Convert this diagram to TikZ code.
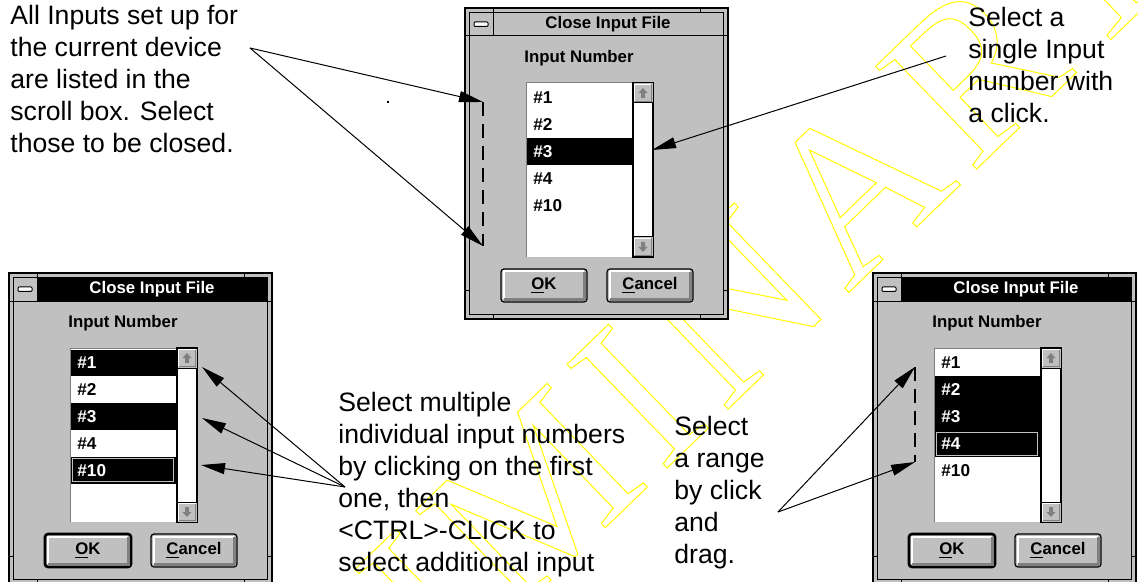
\documentclass[tikz,border=0pt]{standalone}
\usepackage{fontspec}
\setmainfont{Liberation Sans}
\newfontfamily\markfont[LetterSpace=6]{Liberation Serif}
\usetikzlibrary{arrows.meta}

\definecolor{wingray}{RGB}{192,192,192}
\definecolor{winshadow}{RGB}{128,128,128}
\definecolor{markyellow}{RGB}{255,255,0}

% text drawn as outline only
\newcommand{\outlinetext}[1]{%
  \special{pdf:literal direct 1 Tr 0.5 w}#1\special{pdf:literal direct 0 Tr}}

\tikzset{
  note/.style={align=left, anchor=north west, inner sep=0pt, font=\fontsize{13.3}{16}\selectfont},
  uilabel/.style={inner sep=0pt, font=\fontsize{8.4}{10}\selectfont\bfseries},
  itemlabel/.style={inner sep=0pt, anchor=west, font=\fontsize{8.6}{10}\selectfont\bfseries},
  pointer/.style={-{Triangle[length=12pt,width=5.5pt]}, line width=0.5pt},
  guide/.style={dash pattern=on 7pt off 4pt, line width=0.6pt},
}

% small arrow button of a scroll bar
\newcommand{\scrollbutton}[3]{%
  \filldraw[fill=wingray, line width=0.5pt] (#1,#2) rectangle ({#1+20},{#2+20});
  \draw[white, line width=0.8pt] ({#1+1.5},{#2+18.5}) -- ({#1+1.5},{#2+1.5}) -- ({#1+18.5},{#2+1.5});
  \draw[winshadow, line width=0.8pt] ({#1+1.5},{#2+18.5}) -- ({#1+18.5},{#2+18.5}) -- ({#1+18.5},{#2+1.5});
  \fill[winshadow] ({#1+5.5},{#2+10}) -- ({#1+10},{#2+10-(#3)}) -- ({#1+14.5},{#2+10})
    -- ({#1+12},{#2+10}) -- ({#1+12},{#2+10+(#3)}) -- ({#1+8},{#2+10+(#3)}) -- ({#1+8},{#2+10}) -- cycle;
}

% push button
\newcommand{\winbutton}[6]{%
  \filldraw[fill=wingray, line width=#6, rounded corners=1.5pt] (#1,#2) rectangle (#3,#4);
  \draw[white, line width=1pt] ({#1+2.5},{#4-3}) -- ({#1+2.5},{#2+2.5}) -- ({#3-3},{#2+2.5});
  \draw[winshadow, line width=1.5pt] ({#1+3},{#4-2.5}) -- ({#3-2.5},{#4-2.5}) -- ({#3-2.5},{#2+3});
  \node[uilabel] at ({(#1+#3)/2},{(#2+#4)/2}) {#5};
}

% the Close Input File dialog, without its list entries
\newcommand{\closedialog}[5]{%
  \begin{scope}[shift={(#1,#2)}]
    \filldraw[fill=wingray, line width=0.7pt] (0,0) rectangle (263,311);
    \draw[line width=0.5pt] (4.5,4.5) rectangle (258.5,306.5);
    \foreach \t in {28,235} {
      \draw[line width=0.5pt] (\t,0) -- (\t,4.5);
      \draw[line width=0.5pt] (\t,306.5) -- (\t,311);
    }
    \foreach \t in {28,283} {
      \draw[line width=0.5pt] (0,\t) -- (4.5,\t);
      \draw[line width=0.5pt] (258.5,\t) -- (263,\t);
    }
    \filldraw[fill=#3, line width=0.5pt] (4.5,4.5) rectangle (258.5,28);
    \filldraw[fill=wingray, line width=0.5pt] (4.5,4.5) rectangle (28,28);
    \filldraw[fill=white, line width=0.5pt, rounded corners=0.5pt] (9,14) rectangle (23,18.5);
    \node[uilabel, text=#4] at (143,16.5) {Close Input File};
    \node[uilabel] at (114,50) {Input Number};
    \fill[white] (61,75) rectangle (168,249);
    \draw[winshadow, line width=0.5pt] (61,249) -- (61,75) -- (168,75);
    \filldraw[fill=white, line width=0.6pt] (168,75) rectangle (188,249);
    \scrollbutton{168}{75}{5}
    \scrollbutton{168}{229}{-5}
    \winbutton{36}{261}{122}{294}{\underline{O}K}{#5}
    \winbutton{142}{261}{228}{294}{\underline{C}ancel}{0.6pt}
  \end{scope}
}

\begin{document}
\begin{tikzpicture}[x=0.5pt, y=-0.5pt]
  \useasboundingbox (0,0) rectangle (1138,582);
  \fill[white] (0,0) rectangle (1138,582);

  % watermark
  \node[rotate=44, anchor=base west, inner sep=0pt, text=markyellow,
        font=\markfont\fontsize{110}{110}\selectfont]
    (draftMark) at (24,1089) {\outlinetext{PRELIMINARY}};

  % single selection
  \closedialog{465}{8}{wingray}{black}{0.6pt}
  \begin{scope}[shift={(465,8)}]
    \fill (61.5,130.2) rectangle (166.5,157);
    \foreach \n/\c [count=\k from 0] in {1/black,2/black,3/white,4/black,10/black}
      \node[itemlabel, text=\c] at (68,{90+26.8*\k}) {\#\n};
  \end{scope}

  % multiple selection
  \closedialog{9}{273}{black}{white}{1.3pt}
  \begin{scope}[shift={(9,273)}]
    \fill (61.5,76.6) rectangle (166.5,103.4);
    \fill (61.5,130.2) rectangle (166.5,157);
    \fill (61.5,183.8) rectangle (166.5,210.6);
    \draw[wingray, line width=0.5pt] (63.5,185.6) rectangle (164.5,208.8);
    \foreach \n/\c [count=\k from 0] in {1/white,2/black,3/white,4/black,10/white}
      \node[itemlabel, text=\c] at (68,{90+26.8*\k}) {\#\n};
  \end{scope}

  % range selection
  \closedialog{873}{273}{black}{white}{1.3pt}
  \begin{scope}[shift={(873,273)}]
    \fill (61.5,103.4) rectangle (166.5,156.6);
    \fill (61.5,157.4) rectangle (166.5,183.8);
    \draw[wingray, line width=0.5pt] (63.5,159.2) rectangle (164.5,182);
    \foreach \n/\c [count=\k from 0] in {1/black,2/white,3/white,4/white,10/black}
      \node[itemlabel, text=\c] at (68,{90+26.8*\k}) {\#\n};
  \end{scope}

  % notes
  \node[note] (inputsNote) at (10,5) {All Inputs set up for\\the current device\\are listed in the\\scroll box. Select\\those to be closed.};
  \node[note] (singleNote) at (968,7) {Select a\\single Input\\number with\\a click.};
  \node[note] (multiNote) at (338,391.5) {Select multiple\\individual input numbers\\by clicking on the first\\one, then\\<CTRL>-CLICK to\\select additional input};
  \node[note] (rangeNote) at (674,416) {Select\\a range\\by click\\and\\drag.};

  % pointers
  \coordinate (inputsFrom) at (250,48);
  \coordinate (listTop) at (483,102);
  \coordinate (listBottom) at (483,246);
  \draw[guide] (listTop) -- (listBottom);
  \draw[pointer] (inputsFrom) -- (listTop);
  \draw[pointer] (inputsFrom) -- (listBottom);
  \fill (386.5,101.5) rectangle (388.5,103);

  \coordinate (singleFrom) at (946,56);
  \coordinate (singleTo) at (652,150);
  \draw[pointer] (singleFrom) -- (singleTo);

  \coordinate (multiFrom) at (345,487);
  \coordinate (multiFirst) at (202,367);
  \coordinate (multiThird) at (202,418);
  \coordinate (multiTenth) at (201,465);
  \foreach \p in {multiFirst,multiThird,multiTenth}
    \draw[pointer] (multiFrom) -- (\p);

  \coordinate (rangeFrom) at (778,512);
  \coordinate (rangeTop) at (915,367);
  \coordinate (rangeBottom) at (915,462);
  \draw[guide] (rangeTop) -- (rangeBottom);
  \draw[pointer] (rangeFrom) -- (rangeTop);
  \draw[pointer] (rangeFrom) -- (rangeBottom);
\end{tikzpicture}
\end{document}
